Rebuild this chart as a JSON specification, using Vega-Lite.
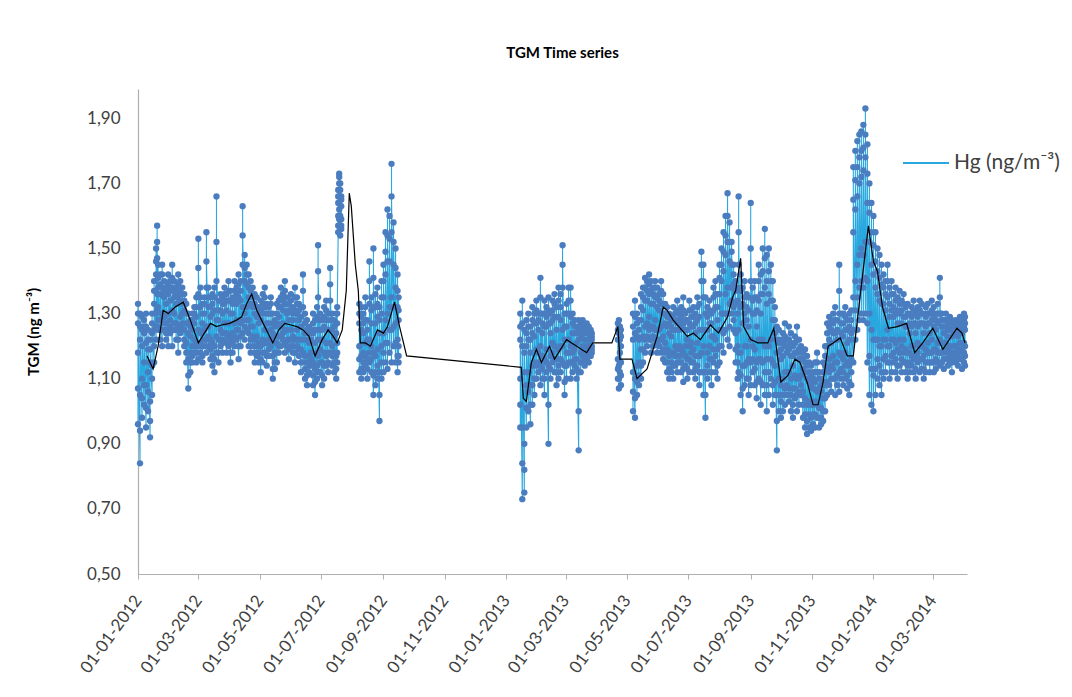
{
  "$schema": "https://vega.github.io/schema/vega-lite/v6.json",
  "width": 829,
  "height": 485,
  "autosize": "none",
  "padding": {"left": 138, "top": 89, "right": 105, "bottom": 123},
  "background": "white",
  "title": {"text": "TGM Time series", "font": "Lato", "fontSize": 15, "fontWeight": "bold", "color": "#000000", "anchor": "middle", "offset": 28, "dx": 10},
  "datasets": {
    "hg": [
      {"d":"2012-01-01","s":1,"v":[0.96,1.33,1.18,1.27,1.07,1.30]},
      {"d":"2012-01-03","s":1,"v":[0.84,1.30,1.05,1.22,0.94,1.26]},
      {"d":"2012-01-05","s":1,"v":[0.98,1.29,1.10,1.20,1.04,1.25]},
      {"d":"2012-01-07","s":1,"v":[1.02,1.28,1.15,1.24,1.08,1.26]},
      {"d":"2012-01-09","s":1,"v":[0.95,1.30,1.08,1.21,1.01,1.26]},
      {"d":"2012-01-11","s":1,"v":[1.00,1.25,1.12,1.19,1.06,1.22]},
      {"d":"2012-01-13","s":1,"v":[0.92,1.22,1.03,1.15,0.97,1.19]},
      {"d":"2012-01-15","s":1,"v":[1.05,1.30,1.14,1.24,1.10,1.27]},
      {"d":"2012-01-17","s":1,"v":[1.15,1.40,1.25,1.33,1.20,1.37]},
      {"d":"2012-01-19","s":1,"v":[1.22,1.50,1.30,1.42,1.26,1.46]},
      {"d":"2012-01-20","s":1,"v":[1.26,1.57,1.36,1.47,1.31,1.52]},
      {"d":"2012-01-21","s":1,"v":[1.25,1.45,1.32,1.38,1.28,1.41]},
      {"d":"2012-01-23","s":1,"v":[1.22,1.42,1.28,1.36,1.25,1.39]},
      {"d":"2012-01-25","s":1,"v":[1.20,1.45,1.30,1.38,1.25,1.42]},
      {"d":"2012-01-27","s":1,"v":[1.25,1.40,1.29,1.35,1.27,1.37]},
      {"d":"2012-01-29","s":1,"v":[1.22,1.38,1.27,1.33,1.24,1.36]},
      {"d":"2012-01-31","s":1,"v":[1.20,1.42,1.30,1.36,1.25,1.39]},
      {"d":"2012-02-02","s":1,"v":[1.24,1.40,1.28,1.34,1.26,1.37]},
      {"d":"2012-02-04","s":1,"v":[1.20,1.45,1.31,1.38,1.25,1.41]},
      {"d":"2012-02-06","s":1,"v":[1.25,1.40,1.30,1.35,1.27,1.37]},
      {"d":"2012-02-08","s":1,"v":[1.22,1.38,1.27,1.33,1.25,1.36]},
      {"d":"2012-02-10","s":1,"v":[1.18,1.42,1.26,1.35,1.22,1.39]},
      {"d":"2012-02-12","s":1,"v":[1.24,1.40,1.29,1.34,1.26,1.37]},
      {"d":"2012-02-14","s":1,"v":[1.25,1.38,1.30,1.33,1.27,1.36]},
      {"d":"2012-02-16","s":1,"v":[1.20,1.36,1.25,1.31,1.22,1.34]},
      {"d":"2012-02-18","s":1,"v":[1.15,1.33,1.21,1.27,1.18,1.30]},
      {"d":"2012-02-20","s":1,"v":[1.07,1.30,1.16,1.24,1.11,1.27]},
      {"d":"2012-02-22","s":1,"v":[1.12,1.28,1.18,1.23,1.15,1.26]},
      {"d":"2012-02-24","s":1,"v":[1.15,1.30,1.20,1.25,1.17,1.28]},
      {"d":"2012-02-26","s":1,"v":[1.18,1.32,1.22,1.27,1.20,1.30]},
      {"d":"2012-02-28","s":1,"v":[1.15,1.35,1.21,1.29,1.18,1.32]},
      {"d":"2012-03-01","s":1,"v":[1.16,1.53,1.25,1.36,1.20,1.44]},
      {"d":"2012-03-03","s":1,"v":[1.18,1.38,1.24,1.32,1.21,1.35]},
      {"d":"2012-03-05","s":1,"v":[1.15,1.33,1.20,1.27,1.17,1.30]},
      {"d":"2012-03-07","s":1,"v":[1.20,1.35,1.25,1.30,1.22,1.33]},
      {"d":"2012-03-09","s":1,"v":[1.18,1.55,1.26,1.38,1.22,1.46]},
      {"d":"2012-03-11","s":1,"v":[1.20,1.38,1.26,1.32,1.23,1.35]},
      {"d":"2012-03-13","s":1,"v":[1.16,1.35,1.22,1.29,1.19,1.32]},
      {"d":"2012-03-15","s":1,"v":[1.14,1.36,1.21,1.30,1.17,1.33]},
      {"d":"2012-03-17","s":1,"v":[1.12,1.38,1.20,1.31,1.16,1.35]},
      {"d":"2012-03-19","s":1,"v":[1.18,1.66,1.28,1.40,1.23,1.52]},
      {"d":"2012-03-21","s":1,"v":[1.15,1.34,1.22,1.28,1.18,1.31]},
      {"d":"2012-03-23","s":1,"v":[1.20,1.36,1.25,1.31,1.22,1.34]},
      {"d":"2012-03-25","s":1,"v":[1.18,1.35,1.24,1.30,1.21,1.33]},
      {"d":"2012-03-27","s":1,"v":[1.22,1.38,1.27,1.33,1.24,1.36]},
      {"d":"2012-03-29","s":1,"v":[1.18,1.36,1.24,1.31,1.21,1.34]},
      {"d":"2012-03-31","s":1,"v":[1.20,1.40,1.27,1.34,1.23,1.37]},
      {"d":"2012-04-02","s":1,"v":[1.15,1.37,1.22,1.30,1.18,1.34]},
      {"d":"2012-04-04","s":1,"v":[1.18,1.35,1.24,1.30,1.21,1.33]},
      {"d":"2012-04-06","s":1,"v":[1.20,1.40,1.27,1.34,1.23,1.37]},
      {"d":"2012-04-08","s":1,"v":[1.22,1.38,1.28,1.33,1.25,1.36]},
      {"d":"2012-04-10","s":1,"v":[1.16,1.42,1.25,1.35,1.20,1.39]},
      {"d":"2012-04-12","s":1,"v":[1.20,1.40,1.27,1.34,1.23,1.37]},
      {"d":"2012-04-14","s":1,"v":[1.24,1.63,1.32,1.45,1.28,1.54]},
      {"d":"2012-04-16","s":1,"v":[1.22,1.48,1.30,1.40,1.26,1.44]},
      {"d":"2012-04-18","s":1,"v":[1.25,1.45,1.32,1.39,1.28,1.42]},
      {"d":"2012-04-20","s":1,"v":[1.20,1.42,1.28,1.35,1.24,1.38]},
      {"d":"2012-04-22","s":1,"v":[1.18,1.40,1.26,1.33,1.22,1.37]},
      {"d":"2012-04-24","s":1,"v":[1.20,1.38,1.26,1.32,1.23,1.35]},
      {"d":"2012-04-26","s":1,"v":[1.15,1.36,1.22,1.30,1.18,1.33]},
      {"d":"2012-04-28","s":1,"v":[1.17,1.35,1.23,1.29,1.20,1.32]},
      {"d":"2012-04-30","s":1,"v":[1.15,1.32,1.21,1.27,1.18,1.30]},
      {"d":"2012-05-02","s":1,"v":[1.12,1.34,1.20,1.28,1.16,1.31]},
      {"d":"2012-05-04","s":1,"v":[1.15,1.36,1.22,1.30,1.18,1.33]},
      {"d":"2012-05-06","s":1,"v":[1.18,1.38,1.25,1.32,1.21,1.35]},
      {"d":"2012-05-08","s":1,"v":[1.14,1.33,1.21,1.27,1.17,1.30]},
      {"d":"2012-05-10","s":1,"v":[1.17,1.32,1.22,1.27,1.19,1.30]},
      {"d":"2012-05-12","s":1,"v":[1.20,1.35,1.25,1.30,1.22,1.33]},
      {"d":"2012-05-14","s":1,"v":[1.10,1.30,1.17,1.24,1.13,1.27]},
      {"d":"2012-05-16","s":1,"v":[1.13,1.28,1.18,1.23,1.15,1.26]},
      {"d":"2012-05-18","s":1,"v":[1.15,1.33,1.21,1.27,1.18,1.30]},
      {"d":"2012-05-20","s":1,"v":[1.18,1.34,1.23,1.29,1.20,1.32]},
      {"d":"2012-05-22","s":1,"v":[1.20,1.38,1.26,1.32,1.23,1.35]},
      {"d":"2012-05-24","s":1,"v":[1.22,1.36,1.27,1.31,1.24,1.34]},
      {"d":"2012-05-26","s":1,"v":[1.18,1.40,1.25,1.33,1.21,1.37]},
      {"d":"2012-05-28","s":1,"v":[1.20,1.35,1.25,1.30,1.22,1.33]},
      {"d":"2012-05-30","s":1,"v":[1.16,1.33,1.22,1.28,1.19,1.31]},
      {"d":"2012-06-01","s":1,"v":[1.20,1.36,1.25,1.31,1.22,1.34]},
      {"d":"2012-06-03","s":1,"v":[1.18,1.32,1.23,1.28,1.20,1.30]},
      {"d":"2012-06-05","s":1,"v":[1.15,1.38,1.22,1.31,1.18,1.35]},
      {"d":"2012-06-07","s":1,"v":[1.20,1.35,1.25,1.30,1.22,1.33]},
      {"d":"2012-06-09","s":1,"v":[1.17,1.33,1.22,1.28,1.19,1.31]},
      {"d":"2012-06-11","s":1,"v":[1.12,1.32,1.19,1.26,1.15,1.29]},
      {"d":"2012-06-13","s":1,"v":[1.15,1.42,1.22,1.32,1.18,1.37]},
      {"d":"2012-06-15","s":1,"v":[1.10,1.30,1.17,1.24,1.13,1.27]},
      {"d":"2012-06-17","s":1,"v":[1.08,1.28,1.15,1.22,1.11,1.25]},
      {"d":"2012-06-19","s":1,"v":[1.12,1.26,1.17,1.21,1.14,1.24]},
      {"d":"2012-06-21","s":1,"v":[1.14,1.25,1.18,1.22,1.16,1.24]},
      {"d":"2012-06-23","s":1,"v":[1.08,1.30,1.15,1.24,1.11,1.27]},
      {"d":"2012-06-25","s":1,"v":[1.05,1.28,1.13,1.21,1.09,1.25]},
      {"d":"2012-06-27","s":1,"v":[1.10,1.32,1.18,1.25,1.14,1.29]},
      {"d":"2012-06-28","s":1,"v":[1.12,1.51,1.22,1.35,1.17,1.43]},
      {"d":"2012-06-30","s":1,"v":[1.12,1.30,1.19,1.25,1.15,1.28]},
      {"d":"2012-07-02","s":1,"v":[1.08,1.28,1.15,1.22,1.11,1.25]},
      {"d":"2012-07-04","s":1,"v":[1.10,1.32,1.18,1.26,1.14,1.29]},
      {"d":"2012-07-06","s":1,"v":[1.14,1.34,1.21,1.28,1.17,1.31]},
      {"d":"2012-07-08","s":1,"v":[1.12,1.30,1.18,1.25,1.15,1.28]},
      {"d":"2012-07-10","s":1,"v":[1.18,1.44,1.25,1.34,1.21,1.39]},
      {"d":"2012-07-12","s":1,"v":[1.14,1.30,1.20,1.25,1.17,1.28]},
      {"d":"2012-07-14","s":1,"v":[1.12,1.28,1.18,1.23,1.15,1.26]},
      {"d":"2012-07-16","s":1,"v":[1.10,1.30,1.17,1.24,1.13,1.27]},
      {"d":"2012-07-17","s":1,"v":[1.15,1.32,1.21,1.27,1.18,1.30]},
      {"d":"2012-07-18","s":1,"v":[1.55,1.68,1.60,1.64,1.57,1.66]},
      {"d":"2012-07-19","s":1,"v":[1.57,1.73,1.62,1.70,1.59,1.72]},
      {"d":"2012-07-20","s":1,"v":[1.54,1.70,1.60,1.66,1.57,1.68]},
      {"d":"2012-07-21","s":1,"v":[1.56,1.66,1.59,1.63,1.57,1.65]},
      {"d":"2012-08-08","s":2,"v":[1.12,1.33,1.20,1.27,1.16,1.30]},
      {"d":"2012-08-10","s":2,"v":[1.10,1.32,1.17,1.25,1.13,1.29]},
      {"d":"2012-08-12","s":2,"v":[1.12,1.30,1.18,1.24,1.15,1.27]},
      {"d":"2012-08-14","s":2,"v":[1.14,1.35,1.21,1.28,1.17,1.32]},
      {"d":"2012-08-16","s":2,"v":[1.10,1.28,1.16,1.22,1.13,1.25]},
      {"d":"2012-08-18","s":2,"v":[1.15,1.46,1.22,1.33,1.18,1.40]},
      {"d":"2012-08-20","s":2,"v":[1.12,1.35,1.20,1.27,1.16,1.31]},
      {"d":"2012-08-22","s":2,"v":[1.05,1.50,1.18,1.32,1.11,1.41]},
      {"d":"2012-08-24","s":2,"v":[1.08,1.36,1.17,1.27,1.12,1.32]},
      {"d":"2012-08-26","s":2,"v":[1.10,1.38,1.19,1.29,1.14,1.33]},
      {"d":"2012-08-28","s":2,"v":[0.97,1.32,1.12,1.24,1.05,1.28]},
      {"d":"2012-08-30","s":2,"v":[1.10,1.40,1.20,1.30,1.15,1.35]},
      {"d":"2012-09-01","s":2,"v":[1.12,1.45,1.24,1.35,1.18,1.40]},
      {"d":"2012-09-03","s":2,"v":[1.15,1.55,1.28,1.42,1.21,1.49]},
      {"d":"2012-09-05","s":2,"v":[1.13,1.62,1.30,1.46,1.21,1.54]},
      {"d":"2012-09-07","s":2,"v":[1.18,1.60,1.32,1.46,1.25,1.53]},
      {"d":"2012-09-09","s":2,"v":[1.15,1.76,1.35,1.55,1.25,1.66]},
      {"d":"2012-09-11","s":2,"v":[1.20,1.58,1.32,1.45,1.26,1.52]},
      {"d":"2012-09-13","s":2,"v":[1.15,1.50,1.27,1.38,1.21,1.44]},
      {"d":"2012-09-15","s":2,"v":[1.12,1.42,1.22,1.32,1.17,1.37]},
      {"d":"2012-09-16","s":2,"v":[1.15,1.35,1.20,1.28,1.17,1.31]},
      {"d":"2013-01-15","s":3,"v":[0.95,1.30,1.10,1.22,1.02,1.26]},
      {"d":"2013-01-17","s":3,"v":[0.73,1.34,0.95,1.20,0.84,1.27]},
      {"d":"2013-01-19","s":3,"v":[0.75,1.25,0.90,1.12,0.82,1.18]},
      {"d":"2013-01-21","s":3,"v":[0.95,1.28,1.08,1.20,1.01,1.24]},
      {"d":"2013-01-23","s":3,"v":[1.00,1.30,1.12,1.22,1.06,1.26]},
      {"d":"2013-01-25","s":3,"v":[0.96,1.26,1.08,1.18,1.02,1.22]},
      {"d":"2013-01-27","s":3,"v":[1.02,1.32,1.14,1.24,1.08,1.28]},
      {"d":"2013-01-29","s":3,"v":[1.05,1.30,1.15,1.23,1.10,1.27]},
      {"d":"2013-01-31","s":3,"v":[1.10,1.34,1.19,1.27,1.14,1.31]},
      {"d":"2013-02-02","s":3,"v":[1.12,1.30,1.18,1.25,1.15,1.28]},
      {"d":"2013-02-04","s":3,"v":[1.08,1.41,1.20,1.30,1.14,1.35]},
      {"d":"2013-02-06","s":3,"v":[1.10,1.30,1.17,1.24,1.13,1.27]},
      {"d":"2013-02-08","s":3,"v":[1.05,1.34,1.16,1.26,1.10,1.30]},
      {"d":"2013-02-10","s":3,"v":[1.12,1.32,1.19,1.26,1.15,1.29]},
      {"d":"2013-02-12","s":3,"v":[0.90,1.35,1.14,1.27,1.02,1.31]},
      {"d":"2013-02-14","s":3,"v":[1.10,1.30,1.17,1.24,1.13,1.27]},
      {"d":"2013-02-16","s":3,"v":[1.15,1.34,1.21,1.28,1.18,1.31]},
      {"d":"2013-02-18","s":3,"v":[1.12,1.36,1.20,1.29,1.16,1.33]},
      {"d":"2013-02-20","s":3,"v":[1.08,1.32,1.16,1.25,1.12,1.29]},
      {"d":"2013-02-22","s":3,"v":[1.10,1.38,1.19,1.29,1.14,1.34]},
      {"d":"2013-02-24","s":3,"v":[1.12,1.36,1.20,1.28,1.16,1.32]},
      {"d":"2013-02-26","s":3,"v":[1.15,1.51,1.25,1.38,1.20,1.45]},
      {"d":"2013-02-28","s":3,"v":[1.05,1.30,1.14,1.22,1.09,1.26]},
      {"d":"2013-03-02","s":3,"v":[1.10,1.33,1.18,1.26,1.14,1.30]},
      {"d":"2013-03-04","s":3,"v":[1.15,1.38,1.22,1.30,1.18,1.34]},
      {"d":"2013-03-06","s":3,"v":[1.10,1.38,1.20,1.29,1.15,1.34]},
      {"d":"2013-03-08","s":3,"v":[1.12,1.30,1.18,1.24,1.15,1.27]},
      {"d":"2013-03-10","s":3,"v":[1.14,1.28,1.19,1.24,1.16,1.26]},
      {"d":"2013-03-12","s":3,"v":[1.10,1.26,1.16,1.21,1.13,1.24]},
      {"d":"2013-03-14","s":3,"v":[0.88,1.28,1.12,1.22,1.00,1.25]},
      {"d":"2013-03-16","s":3,"v":[1.12,1.27,1.18,1.23,1.15,1.25]},
      {"d":"2013-03-18","s":3,"v":[1.15,1.28,1.20,1.24,1.17,1.26]},
      {"d":"2013-03-20","s":3,"v":[1.14,1.25,1.18,1.22,1.16,1.24]},
      {"d":"2013-03-22","s":3,"v":[1.16,1.27,1.20,1.24,1.18,1.26]},
      {"d":"2013-03-24","s":3,"v":[1.15,1.26,1.19,1.22,1.17,1.24]},
      {"d":"2013-03-26","s":3,"v":[1.17,1.25,1.20,1.23,1.18,1.24]},
      {"d":"2013-03-27","s":3,"v":[1.18,1.24,1.20,1.22,1.19,1.23]},
      {"d":"2013-04-22","s":4,"v":[1.10,1.27,1.16,1.22,1.13,1.25]},
      {"d":"2013-04-23","s":4,"v":[1.07,1.28,1.14,1.24,1.10,1.26]},
      {"d":"2013-04-24","s":4,"v":[1.12,1.26,1.18,1.22,1.15,1.24]},
      {"d":"2013-04-25","s":4,"v":[1.08,1.25,1.15,1.20,1.11,1.23]},
      {"d":"2013-05-07","s":5,"v":[1.00,1.30,1.12,1.22,1.06,1.26]},
      {"d":"2013-05-09","s":5,"v":[0.98,1.34,1.10,1.24,1.04,1.29]},
      {"d":"2013-05-11","s":5,"v":[1.05,1.30,1.14,1.23,1.09,1.27]},
      {"d":"2013-05-13","s":5,"v":[1.08,1.28,1.15,1.22,1.11,1.25]},
      {"d":"2013-05-15","s":5,"v":[1.10,1.36,1.19,1.28,1.14,1.32]},
      {"d":"2013-05-17","s":5,"v":[1.15,1.38,1.23,1.31,1.19,1.35]},
      {"d":"2013-05-19","s":5,"v":[1.18,1.41,1.26,1.34,1.22,1.38]},
      {"d":"2013-05-21","s":5,"v":[1.20,1.40,1.27,1.34,1.23,1.37]},
      {"d":"2013-05-23","s":5,"v":[1.22,1.42,1.29,1.36,1.25,1.39]},
      {"d":"2013-05-25","s":5,"v":[1.18,1.40,1.26,1.33,1.22,1.37]},
      {"d":"2013-05-27","s":5,"v":[1.20,1.38,1.26,1.33,1.23,1.36]},
      {"d":"2013-05-29","s":5,"v":[1.22,1.40,1.28,1.35,1.25,1.38]},
      {"d":"2013-05-31","s":5,"v":[1.18,1.38,1.25,1.32,1.21,1.35]},
      {"d":"2013-06-02","s":5,"v":[1.20,1.36,1.25,1.31,1.22,1.34]},
      {"d":"2013-06-04","s":5,"v":[1.18,1.40,1.26,1.33,1.22,1.37]},
      {"d":"2013-06-06","s":5,"v":[1.16,1.36,1.23,1.30,1.19,1.33]},
      {"d":"2013-06-08","s":5,"v":[1.15,1.33,1.21,1.27,1.18,1.30]},
      {"d":"2013-06-10","s":5,"v":[1.12,1.32,1.19,1.26,1.15,1.29]},
      {"d":"2013-06-12","s":5,"v":[1.10,1.30,1.17,1.24,1.13,1.27]},
      {"d":"2013-06-14","s":5,"v":[1.12,1.28,1.18,1.23,1.15,1.26]},
      {"d":"2013-06-16","s":5,"v":[1.10,1.32,1.18,1.25,1.14,1.29]},
      {"d":"2013-06-18","s":5,"v":[1.14,1.30,1.20,1.25,1.17,1.28]},
      {"d":"2013-06-20","s":5,"v":[1.12,1.34,1.19,1.27,1.15,1.31]},
      {"d":"2013-06-22","s":5,"v":[1.15,1.30,1.20,1.25,1.17,1.28]},
      {"d":"2013-06-24","s":5,"v":[1.12,1.32,1.19,1.26,1.15,1.29]},
      {"d":"2013-06-26","s":5,"v":[1.09,1.35,1.18,1.27,1.13,1.31]},
      {"d":"2013-06-28","s":5,"v":[1.14,1.30,1.20,1.25,1.17,1.28]},
      {"d":"2013-06-30","s":5,"v":[1.10,1.28,1.16,1.22,1.13,1.25]},
      {"d":"2013-07-02","s":5,"v":[1.12,1.34,1.20,1.27,1.16,1.31]},
      {"d":"2013-07-04","s":5,"v":[1.15,1.31,1.21,1.26,1.18,1.29]},
      {"d":"2013-07-06","s":5,"v":[1.12,1.32,1.19,1.26,1.15,1.29]},
      {"d":"2013-07-08","s":5,"v":[1.10,1.30,1.17,1.24,1.13,1.27]},
      {"d":"2013-07-10","s":5,"v":[1.14,1.35,1.21,1.28,1.17,1.32]},
      {"d":"2013-07-12","s":5,"v":[1.08,1.33,1.17,1.25,1.12,1.29]},
      {"d":"2013-07-14","s":5,"v":[1.12,1.49,1.25,1.40,1.18,1.45]},
      {"d":"2013-07-16","s":5,"v":[1.05,1.45,1.20,1.35,1.12,1.40]},
      {"d":"2013-07-18","s":5,"v":[0.98,1.35,1.12,1.25,1.05,1.30]},
      {"d":"2013-07-20","s":5,"v":[1.10,1.32,1.18,1.25,1.14,1.29]},
      {"d":"2013-07-22","s":5,"v":[1.12,1.34,1.20,1.27,1.16,1.31]},
      {"d":"2013-07-24","s":5,"v":[1.08,1.30,1.16,1.23,1.12,1.27]},
      {"d":"2013-07-26","s":5,"v":[1.15,1.38,1.23,1.31,1.19,1.35]},
      {"d":"2013-07-28","s":5,"v":[1.12,1.40,1.22,1.32,1.17,1.36]},
      {"d":"2013-07-30","s":5,"v":[1.10,1.36,1.19,1.28,1.14,1.32]},
      {"d":"2013-08-01","s":5,"v":[1.15,1.45,1.25,1.36,1.20,1.41]},
      {"d":"2013-08-03","s":5,"v":[1.20,1.50,1.30,1.40,1.25,1.45]},
      {"d":"2013-08-05","s":5,"v":[1.18,1.55,1.30,1.43,1.24,1.49]},
      {"d":"2013-08-07","s":5,"v":[1.25,1.60,1.36,1.48,1.30,1.54]},
      {"d":"2013-08-09","s":5,"v":[1.22,1.67,1.38,1.52,1.30,1.60]},
      {"d":"2013-08-11","s":5,"v":[1.20,1.58,1.33,1.46,1.26,1.52]},
      {"d":"2013-08-13","s":5,"v":[1.30,1.52,1.38,1.45,1.34,1.49]},
      {"d":"2013-08-15","s":5,"v":[1.25,1.45,1.32,1.39,1.28,1.42]},
      {"d":"2013-08-17","s":5,"v":[1.15,1.40,1.24,1.33,1.19,1.37]},
      {"d":"2013-08-19","s":5,"v":[1.10,1.38,1.20,1.30,1.15,1.34]},
      {"d":"2013-08-20","s":5,"v":[1.12,1.66,1.25,1.45,1.18,1.55]},
      {"d":"2013-08-22","s":5,"v":[1.05,1.42,1.18,1.32,1.11,1.37]},
      {"d":"2013-08-24","s":5,"v":[1.00,1.38,1.14,1.27,1.07,1.33]},
      {"d":"2013-08-26","s":5,"v":[1.08,1.40,1.20,1.30,1.14,1.35]},
      {"d":"2013-08-28","s":5,"v":[1.10,1.36,1.20,1.28,1.15,1.32]},
      {"d":"2013-08-30","s":5,"v":[1.05,1.35,1.16,1.26,1.10,1.31]},
      {"d":"2013-09-01","s":5,"v":[1.08,1.64,1.22,1.40,1.15,1.50]},
      {"d":"2013-09-03","s":5,"v":[1.12,1.38,1.20,1.30,1.16,1.34]},
      {"d":"2013-09-05","s":5,"v":[1.08,1.40,1.19,1.30,1.13,1.35]},
      {"d":"2013-09-07","s":5,"v":[1.04,1.35,1.15,1.26,1.09,1.31]},
      {"d":"2013-09-09","s":5,"v":[1.10,1.45,1.22,1.34,1.16,1.40]},
      {"d":"2013-09-11","s":5,"v":[1.02,1.42,1.16,1.30,1.09,1.36]},
      {"d":"2013-09-13","s":5,"v":[1.08,1.50,1.22,1.36,1.15,1.43]},
      {"d":"2013-09-15","s":5,"v":[1.05,1.56,1.20,1.38,1.12,1.47]},
      {"d":"2013-09-17","s":5,"v":[1.00,1.48,1.16,1.33,1.08,1.40]},
      {"d":"2013-09-19","s":5,"v":[1.05,1.50,1.20,1.36,1.12,1.43]},
      {"d":"2013-09-21","s":5,"v":[1.10,1.45,1.22,1.34,1.16,1.40]},
      {"d":"2013-09-23","s":5,"v":[1.02,1.40,1.15,1.28,1.08,1.34]},
      {"d":"2013-09-25","s":5,"v":[1.05,1.32,1.14,1.24,1.09,1.28]},
      {"d":"2013-09-27","s":5,"v":[0.88,1.26,1.05,1.18,0.97,1.22]},
      {"d":"2013-09-29","s":5,"v":[1.00,1.25,1.10,1.18,1.05,1.21]},
      {"d":"2013-10-01","s":5,"v":[0.98,1.22,1.08,1.16,1.03,1.19]},
      {"d":"2013-10-03","s":5,"v":[1.00,1.24,1.10,1.17,1.05,1.21]},
      {"d":"2013-10-05","s":5,"v":[1.02,1.27,1.12,1.20,1.07,1.23]},
      {"d":"2013-10-07","s":5,"v":[1.05,1.22,1.12,1.18,1.08,1.20]},
      {"d":"2013-10-09","s":5,"v":[1.03,1.26,1.12,1.19,1.07,1.22]},
      {"d":"2013-10-11","s":5,"v":[1.00,1.24,1.10,1.17,1.05,1.21]},
      {"d":"2013-10-13","s":5,"v":[0.98,1.20,1.07,1.14,1.02,1.17]},
      {"d":"2013-10-15","s":5,"v":[1.04,1.23,1.11,1.18,1.07,1.21]},
      {"d":"2013-10-17","s":5,"v":[1.00,1.26,1.10,1.18,1.05,1.22]},
      {"d":"2013-10-19","s":5,"v":[1.02,1.22,1.10,1.16,1.06,1.19]},
      {"d":"2013-10-21","s":5,"v":[1.05,1.20,1.11,1.16,1.08,1.18]},
      {"d":"2013-10-23","s":5,"v":[0.98,1.18,1.06,1.13,1.02,1.16]},
      {"d":"2013-10-25","s":5,"v":[0.95,1.19,1.04,1.12,0.99,1.15]},
      {"d":"2013-10-27","s":5,"v":[0.93,1.17,1.02,1.10,0.97,1.14]},
      {"d":"2013-10-29","s":5,"v":[0.95,1.15,1.03,1.09,0.99,1.12]},
      {"d":"2013-10-31","s":5,"v":[0.94,1.14,1.02,1.08,0.98,1.11]},
      {"d":"2013-11-02","s":5,"v":[0.96,1.12,1.02,1.07,0.99,1.10]},
      {"d":"2013-11-04","s":5,"v":[0.95,1.15,1.03,1.09,0.99,1.12]},
      {"d":"2013-11-06","s":5,"v":[0.98,1.18,1.06,1.12,1.02,1.15]},
      {"d":"2013-11-08","s":5,"v":[0.95,1.12,1.01,1.07,0.98,1.10]},
      {"d":"2013-11-10","s":5,"v":[0.96,1.10,1.01,1.06,0.98,1.08]},
      {"d":"2013-11-12","s":5,"v":[0.97,1.15,1.04,1.09,1.00,1.12]},
      {"d":"2013-11-14","s":5,"v":[1.00,1.20,1.08,1.14,1.04,1.17]},
      {"d":"2013-11-16","s":5,"v":[1.05,1.27,1.13,1.20,1.09,1.24]},
      {"d":"2013-11-18","s":5,"v":[1.08,1.29,1.16,1.22,1.12,1.26]},
      {"d":"2013-11-20","s":5,"v":[1.06,1.28,1.14,1.21,1.10,1.25]},
      {"d":"2013-11-22","s":5,"v":[1.10,1.30,1.17,1.24,1.13,1.27]},
      {"d":"2013-11-24","s":5,"v":[1.05,1.32,1.15,1.24,1.10,1.28]},
      {"d":"2013-11-26","s":5,"v":[1.08,1.28,1.15,1.22,1.11,1.25]},
      {"d":"2013-11-28","s":5,"v":[1.06,1.45,1.18,1.30,1.12,1.37]},
      {"d":"2013-11-30","s":5,"v":[1.10,1.30,1.17,1.24,1.13,1.27]},
      {"d":"2013-12-02","s":5,"v":[1.08,1.30,1.16,1.23,1.12,1.27]},
      {"d":"2013-12-04","s":5,"v":[1.10,1.32,1.18,1.25,1.14,1.29]},
      {"d":"2013-12-06","s":5,"v":[1.07,1.28,1.15,1.21,1.11,1.25]},
      {"d":"2013-12-08","s":5,"v":[1.05,1.30,1.14,1.22,1.09,1.26]},
      {"d":"2013-12-10","s":5,"v":[1.08,1.31,1.16,1.24,1.12,1.28]},
      {"d":"2013-12-12","s":5,"v":[1.15,1.75,1.35,1.55,1.25,1.65]},
      {"d":"2013-12-14","s":5,"v":[1.22,1.80,1.40,1.62,1.31,1.71]},
      {"d":"2013-12-16","s":5,"v":[1.25,1.83,1.45,1.66,1.35,1.75]},
      {"d":"2013-12-18","s":5,"v":[1.28,1.85,1.48,1.70,1.38,1.78]},
      {"d":"2013-12-20","s":5,"v":[1.30,1.86,1.50,1.72,1.40,1.80]},
      {"d":"2013-12-22","s":5,"v":[1.28,1.88,1.48,1.74,1.38,1.81]},
      {"d":"2013-12-24","s":5,"v":[1.30,1.93,1.52,1.78,1.41,1.85]},
      {"d":"2013-12-26","s":5,"v":[1.15,1.82,1.40,1.64,1.27,1.73]},
      {"d":"2013-12-28","s":5,"v":[1.05,1.70,1.30,1.52,1.17,1.61]},
      {"d":"2013-12-30","s":5,"v":[1.02,1.64,1.25,1.45,1.13,1.55]},
      {"d":"2014-01-01","s":5,"v":[1.00,1.60,1.22,1.42,1.11,1.51]},
      {"d":"2014-01-03","s":5,"v":[1.05,1.55,1.22,1.38,1.13,1.46]},
      {"d":"2014-01-05","s":5,"v":[1.10,1.50,1.22,1.36,1.16,1.43]},
      {"d":"2014-01-07","s":5,"v":[1.08,1.48,1.20,1.34,1.14,1.41]},
      {"d":"2014-01-09","s":5,"v":[1.05,1.45,1.20,1.33,1.12,1.39]},
      {"d":"2014-01-11","s":5,"v":[1.10,1.42,1.22,1.33,1.16,1.38]},
      {"d":"2014-01-13","s":5,"v":[1.12,1.40,1.22,1.31,1.17,1.36]},
      {"d":"2014-01-15","s":5,"v":[1.15,1.45,1.25,1.35,1.20,1.40]},
      {"d":"2014-01-17","s":5,"v":[1.10,1.38,1.20,1.29,1.15,1.33]},
      {"d":"2014-01-19","s":5,"v":[1.12,1.40,1.22,1.31,1.17,1.36]},
      {"d":"2014-01-21","s":5,"v":[1.15,1.36,1.22,1.29,1.18,1.32]},
      {"d":"2014-01-23","s":5,"v":[1.12,1.38,1.21,1.30,1.16,1.34]},
      {"d":"2014-01-25","s":5,"v":[1.10,1.35,1.19,1.27,1.14,1.31]},
      {"d":"2014-01-27","s":5,"v":[1.14,1.37,1.22,1.30,1.18,1.33]},
      {"d":"2014-01-29","s":5,"v":[1.12,1.34,1.20,1.27,1.16,1.31]},
      {"d":"2014-01-31","s":5,"v":[1.15,1.36,1.22,1.29,1.18,1.33]},
      {"d":"2014-02-02","s":5,"v":[1.12,1.32,1.19,1.26,1.15,1.29]},
      {"d":"2014-02-04","s":5,"v":[1.10,1.33,1.18,1.26,1.14,1.30]},
      {"d":"2014-02-06","s":5,"v":[1.12,1.30,1.18,1.24,1.15,1.27]},
      {"d":"2014-02-08","s":5,"v":[1.14,1.32,1.20,1.26,1.17,1.29]},
      {"d":"2014-02-10","s":5,"v":[1.12,1.34,1.20,1.27,1.16,1.31]},
      {"d":"2014-02-12","s":5,"v":[1.10,1.30,1.17,1.24,1.13,1.27]},
      {"d":"2014-02-14","s":5,"v":[1.15,1.32,1.21,1.26,1.18,1.29]},
      {"d":"2014-02-16","s":5,"v":[1.12,1.34,1.20,1.27,1.16,1.31]},
      {"d":"2014-02-18","s":5,"v":[1.13,1.33,1.20,1.27,1.16,1.30]},
      {"d":"2014-02-20","s":5,"v":[1.10,1.30,1.17,1.24,1.13,1.27]},
      {"d":"2014-02-22","s":5,"v":[1.12,1.32,1.19,1.26,1.15,1.29]},
      {"d":"2014-02-24","s":5,"v":[1.15,1.33,1.21,1.27,1.18,1.30]},
      {"d":"2014-02-26","s":5,"v":[1.12,1.30,1.18,1.24,1.15,1.27]},
      {"d":"2014-02-28","s":5,"v":[1.15,1.34,1.22,1.28,1.18,1.31]},
      {"d":"2014-03-02","s":5,"v":[1.12,1.32,1.19,1.26,1.15,1.29]},
      {"d":"2014-03-04","s":5,"v":[1.13,1.30,1.19,1.25,1.16,1.28]},
      {"d":"2014-03-06","s":5,"v":[1.15,1.33,1.21,1.27,1.18,1.30]},
      {"d":"2014-03-08","s":5,"v":[1.14,1.41,1.22,1.30,1.18,1.35]},
      {"d":"2014-03-10","s":5,"v":[1.15,1.30,1.21,1.26,1.18,1.28]},
      {"d":"2014-03-12","s":5,"v":[1.13,1.28,1.19,1.24,1.16,1.26]},
      {"d":"2014-03-14","s":5,"v":[1.16,1.30,1.21,1.26,1.18,1.28]},
      {"d":"2014-03-16","s":5,"v":[1.14,1.27,1.19,1.23,1.16,1.25]},
      {"d":"2014-03-18","s":5,"v":[1.15,1.29,1.20,1.25,1.17,1.27]},
      {"d":"2014-03-20","s":5,"v":[1.12,1.28,1.18,1.23,1.15,1.26]},
      {"d":"2014-03-22","s":5,"v":[1.16,1.27,1.20,1.24,1.18,1.26]},
      {"d":"2014-03-24","s":5,"v":[1.15,1.28,1.20,1.24,1.17,1.26]},
      {"d":"2014-03-26","s":5,"v":[1.14,1.27,1.19,1.23,1.16,1.25]},
      {"d":"2014-03-28","s":5,"v":[1.16,1.29,1.21,1.25,1.18,1.27]},
      {"d":"2014-03-30","s":5,"v":[1.13,1.28,1.19,1.24,1.16,1.26]},
      {"d":"2014-04-01","s":5,"v":[1.15,1.30,1.21,1.26,1.18,1.28]},
      {"d":"2014-04-02","s":5,"v":[1.14,1.29,1.20,1.25,1.17,1.27]}
    ],
    "ma": [
      {"d":"2012-01-10","m":1.17},{"d":"2012-01-16","m":1.13},{"d":"2012-01-21","m":1.20},{"d":"2012-01-26","m":1.31},
      {"d":"2012-01-31","m":1.30},{"d":"2012-02-07","m":1.32},{"d":"2012-02-15","m":1.335},{"d":"2012-02-22","m":1.28},
      {"d":"2012-03-01","m":1.21},{"d":"2012-03-07","m":1.24},{"d":"2012-03-13","m":1.27},{"d":"2012-03-19","m":1.26},
      {"d":"2012-03-24","m":1.265},{"d":"2012-04-01","m":1.27},{"d":"2012-04-08","m":1.28},{"d":"2012-04-13","m":1.29},
      {"d":"2012-04-18","m":1.33},{"d":"2012-04-23","m":1.36},{"d":"2012-04-28","m":1.31},{"d":"2012-05-06","m":1.26},
      {"d":"2012-05-14","m":1.21},{"d":"2012-05-20","m":1.25},{"d":"2012-05-26","m":1.27},{"d":"2012-06-01","m":1.265},
      {"d":"2012-06-07","m":1.26},{"d":"2012-06-13","m":1.25},{"d":"2012-06-19","m":1.23},{"d":"2012-06-25","m":1.17},
      {"d":"2012-07-02","m":1.22},{"d":"2012-07-08","m":1.25},{"d":"2012-07-13","m":1.23},{"d":"2012-07-17","m":1.21},
      {"d":"2012-07-22","m":1.25},{"d":"2012-07-26","m":1.37},{"d":"2012-07-29","m":1.67},{"d":"2012-07-31","m":1.63},
      {"d":"2012-08-04","m":1.45},{"d":"2012-08-07","m":1.37},{"d":"2012-08-09","m":1.21},{"d":"2012-08-14","m":1.21},
      {"d":"2012-08-19","m":1.20},{"d":"2012-08-26","m":1.25},{"d":"2012-09-01","m":1.24},{"d":"2012-09-05","m":1.26},
      {"d":"2012-09-12","m":1.335},{"d":"2012-09-17","m":1.26},{"d":"2012-09-24","m":1.17},
      {"d":"2013-01-16","m":1.135},{"d":"2013-01-18","m":1.04},{"d":"2013-01-21","m":1.03},{"d":"2013-01-26","m":1.15},
      {"d":"2013-01-31","m":1.19},{"d":"2013-02-05","m":1.15},{"d":"2013-02-13","m":1.20},{"d":"2013-02-18","m":1.16},
      {"d":"2013-02-26","m":1.20},{"d":"2013-03-02","m":1.22},{"d":"2013-03-12","m":1.20},{"d":"2013-03-22","m":1.18},
      {"d":"2013-03-28","m":1.21},{"d":"2013-04-04","m":1.21},{"d":"2013-04-16","m":1.21},{"d":"2013-04-22","m":1.26},
      {"d":"2013-04-24","m":1.16},{"d":"2013-05-06","m":1.16},{"d":"2013-05-11","m":1.10},{"d":"2013-05-21","m":1.13},
      {"d":"2013-05-31","m":1.23},{"d":"2013-06-06","m":1.32},{"d":"2013-06-10","m":1.31},{"d":"2013-06-16","m":1.28},
      {"d":"2013-06-30","m":1.23},{"d":"2013-07-06","m":1.24},{"d":"2013-07-13","m":1.22},{"d":"2013-07-23","m":1.265},
      {"d":"2013-07-31","m":1.24},{"d":"2013-08-09","m":1.29},{"d":"2013-08-14","m":1.35},{"d":"2013-08-17","m":1.37},
      {"d":"2013-08-22","m":1.47},{"d":"2013-08-25","m":1.26},{"d":"2013-09-01","m":1.22},{"d":"2013-09-08","m":1.21},
      {"d":"2013-09-18","m":1.21},{"d":"2013-09-24","m":1.255},{"d":"2013-10-01","m":1.09},{"d":"2013-10-08","m":1.11},
      {"d":"2013-10-15","m":1.16},{"d":"2013-10-20","m":1.15},{"d":"2013-10-27","m":1.09},{"d":"2013-11-02","m":1.02},
      {"d":"2013-11-07","m":1.02},{"d":"2013-11-12","m":1.09},{"d":"2013-11-17","m":1.20},{"d":"2013-11-22","m":1.21},
      {"d":"2013-11-29","m":1.225},{"d":"2013-12-06","m":1.17},{"d":"2013-12-12","m":1.17},{"d":"2013-12-19","m":1.36},
      {"d":"2013-12-27","m":1.57},{"d":"2014-01-01","m":1.46},{"d":"2014-01-05","m":1.43},{"d":"2014-01-10","m":1.32},
      {"d":"2014-01-16","m":1.255},{"d":"2014-01-25","m":1.26},{"d":"2014-02-03","m":1.27},{"d":"2014-02-11","m":1.18},
      {"d":"2014-02-19","m":1.21},{"d":"2014-03-01","m":1.255},{"d":"2014-03-11","m":1.19},{"d":"2014-03-25","m":1.255},
      {"d":"2014-03-30","m":1.24},{"d":"2014-04-02","m":1.21}
    ]
  },
  "encoding": {
    "x": {
      "field": "d", "type": "temporal",
      "scale": {"type": "utc", "domain": [{"year": 2012, "month": 1, "date": 1, "utc": true}, {"year": 2014, "month": 4, "date": 4, "utc": true}], "nice": false},
      "axis": {
        "title": null, "grid": false,
        "labelExpr": "utcFormat(datum.value, '%d-%m-%Y')",
        "values": [
          {"year": 2012, "month": 1, "date": 1, "utc": true}, {"year": 2012, "month": 3, "date": 1, "utc": true},
          {"year": 2012, "month": 5, "date": 1, "utc": true}, {"year": 2012, "month": 7, "date": 1, "utc": true},
          {"year": 2012, "month": 9, "date": 1, "utc": true}, {"year": 2012, "month": 11, "date": 1, "utc": true},
          {"year": 2013, "month": 1, "date": 1, "utc": true}, {"year": 2013, "month": 3, "date": 1, "utc": true},
          {"year": 2013, "month": 5, "date": 1, "utc": true}, {"year": 2013, "month": 7, "date": 1, "utc": true},
          {"year": 2013, "month": 9, "date": 1, "utc": true}, {"year": 2013, "month": 11, "date": 1, "utc": true},
          {"year": 2014, "month": 1, "date": 1, "utc": true}, {"year": 2014, "month": 3, "date": 1, "utc": true}
        ],
        "labelAngle": -54, "labelAlign": "right", "labelBaseline": "middle", "labelPadding": 18,
        "labelFont": "Lato", "labelFontSize": 17, "labelColor": "#404040",
        "labelOverlap": false, "labelFlush": false, "labelBound": false,
        "ticks": true, "tickSize": 5, "tickColor": "#AFAFAF", "domainColor": "#AFAFAF", "domainWidth": 1.2
      }
    },
    "y": {
      "field": "v", "type": "quantitative",
      "scale": {"domain": [0.5, 1.99], "nice": false, "zero": false},
      "axis": {
        "title": "TGM (ng m⁻³)", "titleFont": "Lato", "titleFontSize": 15, "titleFontWeight": "bold", "titleColor": "#000000", "titlePadding": 45,
        "grid": false, "ticks": false, "values": [0.5, 0.7, 0.9, 1.1, 1.3, 1.5, 1.7, 1.9],
        "labelExpr": "replace(format(datum.value, '.2f'), '.', ',')",
        "labelFont": "Lato", "labelFontSize": 17, "labelColor": "#404040", "labelPadding": 18,
        "domainColor": "#AFAFAF", "domainWidth": 1.2
      }
    }
  },
  "layer": [
    {
      "data": {"name": "hg"},
      "transform": [{"flatten": ["v"]}],
      "mark": {"type": "line", "strokeWidth": 1.1},
      "encoding": {
        "detail": {"field": "s", "type": "nominal"},
        "color": {
          "datum": "Hg (ng/m⁻³)",
          "scale": {"range": ["#29A8E0"]},
          "legend": {
            "title": null, "orient": "none", "legendX": 764, "legendY": 50, "padding": 0,
            "symbolType": "stroke", "symbolSize": 2116, "symbolStrokeWidth": 2, "labelOffset": 4,
            "labelFont": "Lato", "labelFontSize": 21, "labelColor": "#404040"
          }
        }
      }
    },
    {
      "data": {"name": "hg"},
      "transform": [{"flatten": ["v"]}],
      "mark": {"type": "circle", "size": 40, "opacity": 1, "color": "#4A7DC0"}
    },
    {
      "data": {"name": "ma"},
      "mark": {"type": "line", "color": "#000000", "strokeWidth": 1.2},
      "encoding": {"y": {"field": "m", "type": "quantitative"}}
    }
  ],
  "config": {"view": {"stroke": null}}
}
